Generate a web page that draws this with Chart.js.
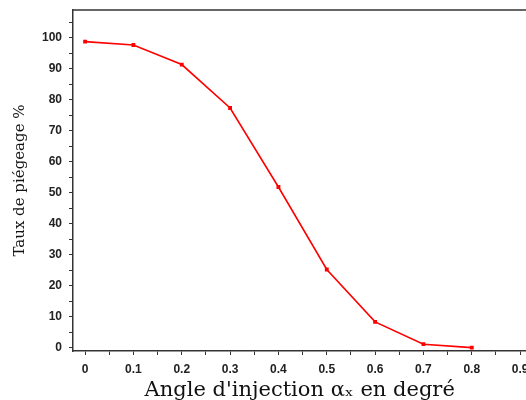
<!DOCTYPE html>
<html>
<head>
<meta charset="utf-8">
<script src="https://cdn.jsdelivr.net/npm/chart.js@4"></script>
<style>
  html, body { margin: 0; padding: 0; background: #fff; overflow: hidden; }
  #wrap { width: 532px; height: 400px; }
</style>
</head>
<body>
<div id="wrap"><canvas id="chart"></canvas></div>
<script>
const angles = [0, 0.1, 0.2, 0.3, 0.4, 0.5, 0.6, 0.7, 0.8];
const taux = [98.8, 97.7, 91.4, 77.4, 51.9, 25.3, 8.4, 1.2, 0.1];
const xTicks = [0, 0.05, 0.1, 0.15, 0.2, 0.25, 0.3, 0.35, 0.4, 0.45, 0.5, 0.55, 0.6, 0.65, 0.7, 0.75, 0.8, 0.85, 0.9];
const yTicks = [0, 5, 10, 15, 20, 25, 30, 35, 40, 45, 50, 55, 60, 65, 70, 75, 80, 85, 90, 95, 100, 105];

const axisColor = '#333';
const tickFont = { family: 'Liberation Sans', size: 12, weight: 'bold' };

// top frame line across the plot
const topLine = {
  id: 'topLine',
  afterDraw(chart) {
    const { ctx, chartArea } = chart;
    ctx.save();
    ctx.strokeStyle = axisColor;
    ctx.lineWidth = 1.5;
    ctx.beginPath();
    ctx.moveTo(chartArea.left, chartArea.top);
    ctx.lineTo(chartArea.right, chartArea.top);
    ctx.stroke();
    ctx.restore();
  }
};

new Chart(document.getElementById('chart').getContext('2d'), {
  type: 'scatter',
  data: {
    datasets: [{
      data: angles.map((a, i) => ({ x: a, y: taux[i] })),
      showLine: true,
      borderColor: '#ff0000',
      backgroundColor: '#ff0000',
      borderWidth: 1.6,
      pointStyle: 'rect',
      pointRadius: 1.6,
      tension: 0
    }]
  },
  options: {
    responsive: true,
    maintainAspectRatio: false,
    animation: false,
    layout: { padding: { top: 10, right: 0, left: 0, bottom: 0 } },
    plugins: { legend: { display: false }, tooltip: { enabled: false } },
    scales: {
      x: {
        type: 'linear',
        min: -0.025,
        max: 0.913,
        afterBuildTicks: s => { s.ticks = xTicks.map(v => ({ value: v })); },
        afterFit: s => { s.height = 49; s.paddingLeft = 0; s.paddingRight = 0; },
        grid: { drawOnChartArea: false, tickLength: 4, color: axisColor, lineWidth: 1 },
        border: { color: axisColor, width: 1.5 },
        ticks: {
          color: '#222',
          font: tickFont,
          padding: 7,
          maxRotation: 0,
          autoSkip: false,
          callback: v => (Math.round(v * 100) % 10 === 0 ? String(Math.round(v * 10) / 10) : '')
        },
        title: {
          display: true,
          text: "Angle d'injection \u03B1\u2093 en degré",
          color: '#111',
          font: { family: 'DejaVu Serif', size: 21 },
          padding: { top: 0, bottom: -3 }
        }
      },
      y: {
        min: -1,
        max: 109,
        afterBuildTicks: s => { s.ticks = yTicks.map(v => ({ value: v })); },
        afterFit: s => { s.width = 73; s.paddingTop = 0; s.paddingBottom = 0; },
        grid: { drawOnChartArea: false, tickLength: 4, color: axisColor, lineWidth: 1 },
        border: { color: axisColor, width: 1.5 },
        ticks: {
          color: '#222',
          font: tickFont,
          padding: 7,
          autoSkip: false,
          callback: v => (v % 10 === 0 && v <= 100 ? String(v) : '')
        },
        title: {
          display: true,
          text: 'Taux de piégeage %',
          color: '#111',
          font: { family: 'DejaVu Serif', size: 15 },
          padding: { top: 11, bottom: 0 }
        }
      }
    }
  },
  plugins: [topLine]
});
</script>
</body>
</html>
